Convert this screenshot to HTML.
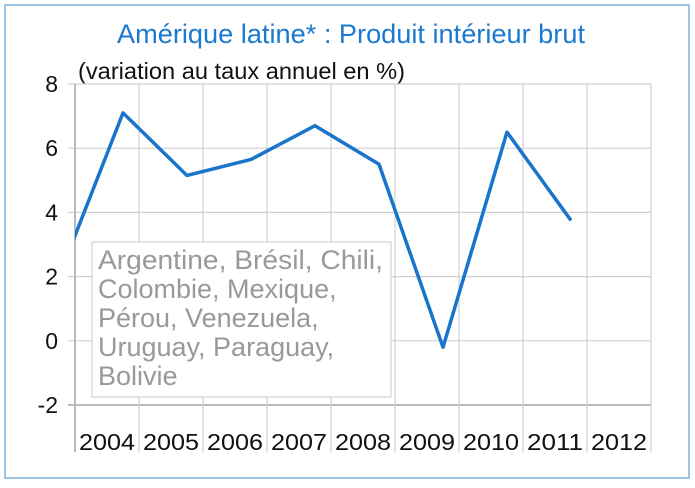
<!DOCTYPE html>
<html><head><meta charset="utf-8"><style>
body{margin:0;background:#fff;width:695px;height:483px;overflow:hidden;font-family:"Liberation Sans",sans-serif}
</style></head><body>
<svg width="695" height="483">
<rect x="5" y="5" width="684" height="473" fill="#fff" stroke="#7fb2e0" stroke-width="1.5"/>
<text x="351" y="43" text-anchor="middle" font-size="27" textLength="468" lengthAdjust="spacingAndGlyphs" fill="#1a7ad0">Amérique latine* : Produit intérieur brut</text>
<text x="78" y="79" font-size="23" textLength="327" lengthAdjust="spacingAndGlyphs" fill="#111">(variation au taux annuel en %)</text>
<g id="grid"></g>
<g id="plot"></g>
<g>
<rect x="92" y="242" width="299" height="155" fill="#fff" stroke="#c8c8c8" stroke-width="1"/>
<text font-size="27" fill="#999">
<tspan x="98" y="269" textLength="285" lengthAdjust="spacingAndGlyphs">Argentine, Brésil, Chili,</tspan>
<tspan x="98" y="298">Colombie, Mexique,</tspan>
<tspan x="98" y="327">Pérou, Venezuela,</tspan>
<tspan x="98" y="356">Uruguay, Paraguay,</tspan>
<tspan x="98" y="385">Bolivie</tspan>
</text></g>
<g id="xlabels"></g>
</svg>
<script>
const categories=["2004","2005","2006","2007","2008","2009","2010","2011","2012"];
const yTicks=[8,6,4,2,0,-2];
const seriesYears=[2003,2004,2005,2006,2007,2008,2009,2010,2011];
const seriesValues=[2.0,7.1,5.15,5.65,6.7,5.5,-0.2,6.5,3.75];
const X0=75,CW=64,YT=84,YB=405,YMAX=8,YMIN=-2;
const y=v=>YT+(YMAX-v)/(YMAX-YMIN)*(YB-YT);
const xc=i=>X0+CW*(i+0.75);
const ns="http://www.w3.org/2000/svg";
const grid=document.getElementById('grid'),plot=document.getElementById('plot'),xl=document.getElementById('xlabels');
function mk(tag,attrs,parent){const e=document.createElementNS(ns,tag);for(const k in attrs)e.setAttribute(k,attrs[k]);parent.appendChild(e);return e;}
const XR=X0+CW*categories.length;
yTicks.forEach(v=>{
 const l=mk('line',{x1:68,x2:XR,y1:y(v),y2:y(v),stroke:v===YMIN?'#bbb':'#d0d0d0','stroke-width':v===YMIN?2:1.2},grid);
 
 
 const t=mk('text',{x:58,y:y(v)+8,'text-anchor':'end','font-size':23,fill:'#111'},grid);
 t.textContent=v;
 
 
});
for(let i=0;i<=categories.length;i++){
 const l=mk('line',{x1:X0+CW*i,x2:X0+CW*i,y1:YT,y2:452,stroke:i===0?'#bbb':'#d0d0d0','stroke-width':i===0?2:1.2},grid);
 
 
}
categories.forEach((c,i)=>{
 const t=mk('text',{x:X0+CW*(i+0.5),y:450,'text-anchor':'middle','font-size':23,textLength:56,lengthAdjust:'spacingAndGlyphs',fill:'#111'},xl);
 t.textContent=c;
 
 
});
const defs=mk('defs',{},plot);
const cp=mk('clipPath',{id:'cp'},defs);
mk('rect',{x:X0,y:YT-10,width:XR-X0,height:YB-YT+20},cp);
const pts=seriesYears.map((yr,k)=>xc(yr-2004)+','+y(seriesValues[k])).join(' ');
const pl=mk('polyline',{points:pts,fill:'none',stroke:'#1a74cc','stroke-width':3.5,'stroke-linejoin':'round','clip-path':'url(#cp)'},plot);


</script>
</body></html>
